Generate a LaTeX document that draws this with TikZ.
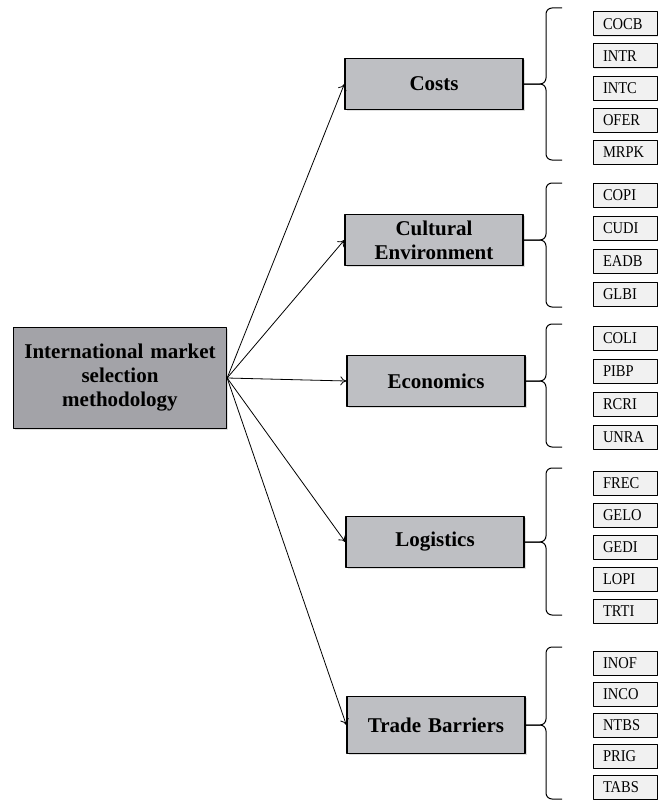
\documentclass[tikz,border=0pt]{standalone}
\usepackage{fontspec}
\setmainfont{Liberation Serif}
\newfontfamily\itemfont[FakeStretch=0.88]{Liberation Serif}
\usetikzlibrary{positioning, arrows.meta, shadows}

\definecolor{maingray}{RGB}{163,163,168}
\definecolor{catgray}{RGB}{190,191,195}
\definecolor{itemgray}{RGB}{241,241,241}

\begin{document}
\begin{tikzpicture}[x=1pt, y=-1pt, >={To[length=6pt, width=9pt]}, line join=round]
            % Define block styles
            \tikzstyle{block} = [rectangle, draw, line width=1.3pt, fill=maingray, text width=201pt, inner sep=6pt, align=center, minimum height=101pt, font=\fontsize{21}{24}\selectfont\bfseries, drop shadow={shadow xshift=1.5pt, shadow yshift=-1.5pt, opacity=0.25}]
            \tikzstyle{catblock} = [block, fill=catgray, text width=166pt, minimum height=51pt]
            \tikzstyle{smallblock} = [rectangle, draw, line width=1pt, fill=itemgray, text width=44pt, inner xsep=10pt, inner ysep=2pt, align=left, minimum height=24pt, font=\itemfont\fontsize{16.5}{18}\selectfont, drop shadow={shadow xshift=1pt, shadow yshift=-1pt, opacity=0.2}]
            \tikzstyle{curly} = [line width=1pt, rounded corners=6pt]

            \useasboundingbox (0,0) rectangle (658,800);

            % Place main nodes
            \node [block] (imsm) at (120,378) {International market\\selection\\methodology};
            \node [catblock] (costs) at (434,84) {Costs};
            \node [catblock] (culture) at (434,240) {Cultural\\Environment};
            \node [catblock] (econ) at (436,381) {Economics};
            \node [catblock] (logis) at (435,542) {Logistics};
            \node [catblock, minimum height=57pt] (trade) at (436,725) {Trade Barriers};

            % Place small blocks for costs
            \node [smallblock] (cocb) at (625,24) {COCB};
            \node [smallblock, below=7pt of cocb] (intr) {INTR};
            \node [smallblock, below=7pt of intr] (intc) {INTC};
            \node [smallblock, below=7pt of intc] (ofer) {OFER};
            \node [smallblock, below=7pt of ofer] (mrpk) {MRPK};

            % Place small blocks for cultural environment
            \node [smallblock] (copi) at (625,195) {COPI};
            \node [smallblock, below=8pt of copi] (cudi) {CUDI};
            \node [smallblock, below=8pt of cudi] (eadb) {EADB};
            \node [smallblock, below=8pt of eadb] (glbi) {GLBI};

            % Place small blocks for economics
            \node [smallblock] (coli) at (625,338) {COLI};
            \node [smallblock, below=8pt of coli] (pibp) {PIBP};
            \node [smallblock, below=8pt of pibp] (rcri) {RCRI};
            \node [smallblock, below=8pt of rcri] (unra) {UNRA};

            % Place small blocks for logistics
            \node [smallblock] (frec) at (625,483) {FREC};
            \node [smallblock, below=7pt of frec] (gelo) {GELO};
            \node [smallblock, below=7pt of gelo] (gedi) {GEDI};
            \node [smallblock, below=7pt of gedi] (lopi) {LOPI};
            \node [smallblock, below=7pt of lopi] (trti) {TRTI};

            % Place small blocks for trade barriers
            \node [smallblock] (inof) at (625,663) {INOF};
            \node [smallblock, below=6pt of inof] (inco) {INCO};
            \node [smallblock, below=6pt of inco] (ntbs) {NTBS};
            \node [smallblock, below=6pt of ntbs] (prig) {PRIG};
            \node [smallblock, below=6pt of prig] (tabs) {TABS};

            % Draw connections as arrows
            \draw [->, line width=0.8pt] (imsm.east) -- (costs.west);
            \draw [->, line width=0.8pt] (imsm.east) -- (culture.west);
            \draw [->, line width=0.8pt] (imsm.east) -- (econ.west);
            \draw [->, line width=0.8pt] (imsm.east) -- (logis.west);
            \draw [->, line width=0.8pt] (imsm.east) -- (trade.west);

            % Draw braces
            \draw [curly] (562,8) -| (546,84) -- (costs.east);
            \draw [curly] (562,160) -| (546,84) -- (costs.east);
            \draw [curly] (562,183) -| (546,240) -- (culture.east);
            \draw [curly] (562,307) -| (546,240) -- (culture.east);
            \draw [curly] (562,324) -| (546,381) -- (econ.east);
            \draw [curly] (562,447) -| (546,381) -- (econ.east);
            \draw [curly] (562,468) -| (546,542) -- (logis.east);
            \draw [curly] (562,615) -| (546,542) -- (logis.east);
            \draw [curly] (562,647) -| (546,725) -- (trade.east);
            \draw [curly] (562,799) -| (546,725) -- (trade.east);

\end{tikzpicture}
\end{document}
